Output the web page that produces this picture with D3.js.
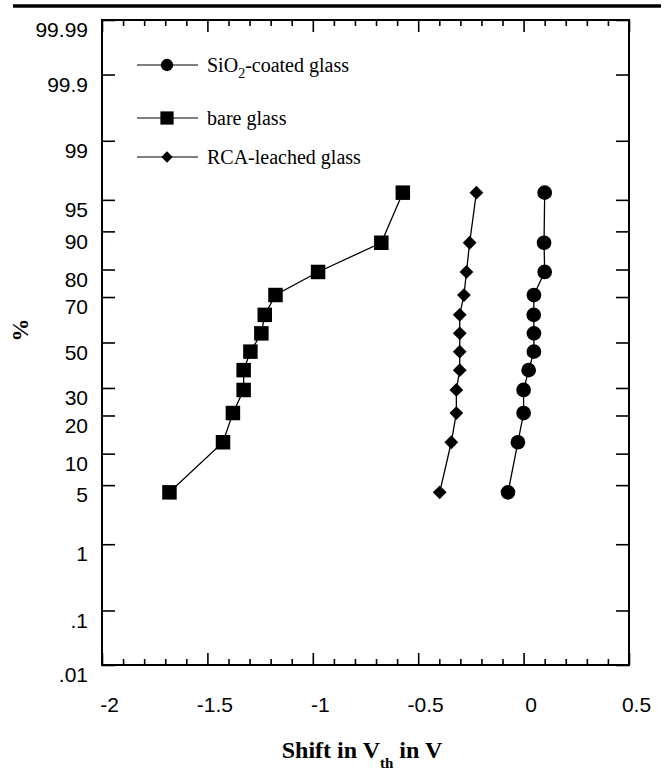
<!DOCTYPE html>
<html>
<head>
<meta charset="utf-8">
<script src="https://cdn.jsdelivr.net/npm/d3@7"></script>
<style>
body { margin: 0; background: #fff; }
</style>
</head>
<body>
<svg id="chart" width="664" height="774"></svg>
<script>

// cumulative percentages (same plotting positions for every series)
var percents = [4.2, 12.5, 20.8, 29.2, 37.5, 45.8, 54.2, 62.5, 70.8, 79.2, 87.5, 95.8];

// shift in Vth (V), bottom point first
var sio2Shift = [-0.074, -0.027, 0.0, 0.0, 0.024, 0.049, 0.049, 0.048, 0.049, 0.100, 0.097, 0.100];
var bareShift = [-1.68, -1.426, -1.379, -1.328, -1.328, -1.296, -1.244, -1.228, -1.177, -0.975, -0.675, -0.573];
var rcaShift  = [-0.398, -0.343, -0.319, -0.319, -0.303, -0.303, -0.303, -0.303, -0.283, -0.271, -0.256, -0.224];

var yTickValues = [0.01, 0.1, 1, 5, 10, 20, 30, 50, 70, 80, 90, 95, 99, 99.9, 99.99];
var yTickLabels = [".01", ".1", "1", "5", "10", "20", "30", "50", "70", "80", "90", "95", "99", "99.9", "99.99"];
var xTickValues = [-2, -1.5, -1, -0.5, 0, 0.5];
var xTickLabels = ["-2", "-1.5", "-1", "-0.5", "0", "0.5"];

var margin = {top: 20, right: 35, bottom: 109, left: 102},
width = 664 - margin.left - margin.right,
height = 774 - margin.top - margin.bottom;

// inverse normal cdf (Acklam), used for the probability axis
function probit(p) {
  var a = [-3.969683028665376e+01, 2.209460984245205e+02, -2.759285104469687e+02, 1.383577518672690e+02, -3.066479806614716e+01, 2.506628277459239e+00],
      b = [-5.447609879822406e+01, 1.615858368580409e+02, -1.556989798598866e+02, 6.680131188771972e+01, -1.328068155288572e+01],
      c = [-7.784894002430293e-03, -3.223964580411365e-01, -2.400758277161838e+00, -2.549732539343734e+00, 4.374664141464968e+00, 2.938163982698783e+00],
      d = [7.784695709041462e-03, 3.224671290700398e-01, 2.445134137142996e+00, 3.754408661907416e+00];
  var q, r, pl = 0.02425;
  if (p < pl) {
    q = Math.sqrt(-2 * Math.log(p));
    return (((((c[0]*q+c[1])*q+c[2])*q+c[3])*q+c[4])*q+c[5]) / ((((d[0]*q+d[1])*q+d[2])*q+d[3])*q+1);
  }
  if (p > 1 - pl) {
    q = Math.sqrt(-2 * Math.log(1 - p));
    return -(((((c[0]*q+c[1])*q+c[2])*q+c[3])*q+c[4])*q+c[5]) / ((((d[0]*q+d[1])*q+d[2])*q+d[3])*q+1);
  }
  q = p - 0.5; r = q * q;
  return (((((a[0]*r+a[1])*r+a[2])*r+a[3])*r+a[4])*r+a[5])*q / (((((b[0]*r+b[1])*r+b[2])*r+b[3])*r+b[4])*r+1);
}

var x = d3.scaleLinear()
.domain([-2, 0.5])
.range([0, width]);

var z = d3.scaleLinear()
.domain([probit(0.0001), probit(0.9999)])
.range([height, 0]);

function yp(pct) { return z(probit(pct / 100)); }

var root = d3.select("#chart");

// rule across the top of the page
root.append("line")
.attr("x1", 13).attr("x2", 661)
.attr("y1", 6).attr("y2", 6)
.attr("stroke", "#000")
.attr("stroke-width", 3.5);

var svg = root.append("g")
.attr("transform", "translate(" + margin.left + "," + margin.top + ")");

var zTicks = yTickValues.map(function(p) { return probit(p / 100); });
var minorX = d3.range(-19, 5).map(function(i) { return i / 10; })
.filter(function(v) { return Math.abs(v * 2 - Math.round(v * 2)) > 1e-6; });

// left axis with labels
var yAxis = svg.append("g")
.call(d3.axisLeft(z)
    .tickValues(zTicks)
    .tickSize(-13)
    .tickPadding(14)
    .tickFormat(function(d, i) { return yTickLabels[i]; }));
yAxis.selectAll("text").attr("y", 10);

svg.append("g")
.attr("transform", "translate(" + width + ",0)")
.call(d3.axisRight(z)
    .tickValues(zTicks)
    .tickSize(-13)
    .tickFormat(function() { return null; }));

// bottom axis, majors with labels then minors
var xAxis = svg.append("g")
.attr("transform", "translate(0," + height + ")")
.call(d3.axisBottom(x)
    .tickValues(xTickValues)
    .tickSize(-12)
    .tickPadding(32)
    .tickFormat(function(d, i) { return xTickLabels[i]; }));
xAxis.selectAll("text").attr("x", 7);

svg.append("g")
.attr("transform", "translate(0," + height + ")")
.call(d3.axisBottom(x)
    .tickValues(minorX)
    .tickSize(-6)
    .tickFormat(function() { return null; }));

svg.append("g")
.call(d3.axisTop(x)
    .tickValues(xTickValues)
    .tickSize(-12)
    .tickFormat(function() { return null; }));

svg.append("g")
.call(d3.axisTop(x)
    .tickValues(minorX)
    .tickSize(-6)
    .tickFormat(function() { return null; }));

svg.selectAll(".domain").remove();
svg.selectAll(".tick line").attr("stroke", "#000").attr("stroke-width", 1.6);
svg.selectAll(".tick text")
.attr("fill", "#000")
.style("font-family", "'Liberation Sans', Arial, sans-serif")
.style("font-size", "21px");

svg.append("rect")
.attr("width", width)
.attr("height", height)
.attr("fill", "none")
.attr("stroke", "#000")
.attr("stroke-width", 2);

var series = [
  {name: "sio2", values: sio2Shift, shape: d3.symbolCircle, size: 170, rot: 0},
  {name: "bare", values: bareShift, shape: d3.symbolSquare, size: 210, rot: 0},
  {name: "rca", values: rcaShift, shape: d3.symbolSquare, size: 95, rot: 45}
];

var line = d3.line()
.x(function(d) { return x(d[0]); })
.y(function(d) { return yp(d[1]); });

series.forEach(function(s) {
  var pts = s.values.map(function(v, i) { return [v, percents[i]]; });
  svg.append("path")
  .datum(pts)
  .attr("fill", "none")
  .attr("stroke", "#000")
  .attr("stroke-width", 1.3)
  .attr("d", line);

  svg.selectAll(".pt-" + s.name)
  .data(pts)
  .enter().append("path")
  .attr("class", "pt-" + s.name)
  .attr("d", d3.symbol().type(s.shape).size(s.size))
  .attr("transform", function(d) {
    return "translate(" + x(d[0]) + "," + yp(d[1]) + ") rotate(" + s.rot + ")";
  })
  .attr("fill", "#000");
});

// legend
var legendRows = [
  {y: 65, shape: d3.symbolCircle, size: 120, rot: 0},
  {y: 118, shape: d3.symbolSquare, size: 175, rot: 0},
  {y: 157, shape: d3.symbolSquare, size: 64, rot: 45}
];
var legend = root.append("g");
legendRows.forEach(function(r) {
  legend.append("line")
  .attr("x1", 137).attr("x2", 198)
  .attr("y1", r.y).attr("y2", r.y)
  .attr("stroke", "#000").attr("stroke-width", 1.2);
  legend.append("path")
  .attr("d", d3.symbol().type(r.shape).size(r.size))
  .attr("transform", "translate(167," + r.y + ") rotate(" + r.rot + ")");
});

var lt = legend.append("g")
.attr("font-family", "'Liberation Serif', 'Times New Roman', serif")
.attr("font-size", 20);

var t1 = lt.append("text").attr("x", 207).attr("y", 72);
t1.append("tspan").text("SiO");
t1.append("tspan").attr("font-size", 14).attr("dy", 6).text("2");
t1.append("tspan").attr("dy", -6).text("-coated glass");

lt.append("text").attr("x", 207).attr("y", 125).text("bare glass");
lt.append("text").attr("x", 207).attr("y", 164).text("RCA-leached glass");

// axis titles
var xt = root.append("text")
.attr("x", 362)
.attr("y", 758)
.attr("text-anchor", "middle")
.attr("font-family", "'Liberation Serif', 'Times New Roman', serif")
.attr("font-weight", "bold")
.attr("font-size", 24);
xt.append("tspan").text("Shift in V");
xt.append("tspan").attr("font-size", 15).attr("dy", 10).text("th");
xt.append("tspan").attr("dy", -10).text(" in V");

root.append("text")
.attr("transform", "translate(28,330) rotate(-90)")
.attr("text-anchor", "middle")
.attr("font-family", "'Liberation Serif', 'Times New Roman', serif")
.attr("font-weight", "bold")
.attr("font-size", 23)
.text("%");
</script>
</body>
</html>
